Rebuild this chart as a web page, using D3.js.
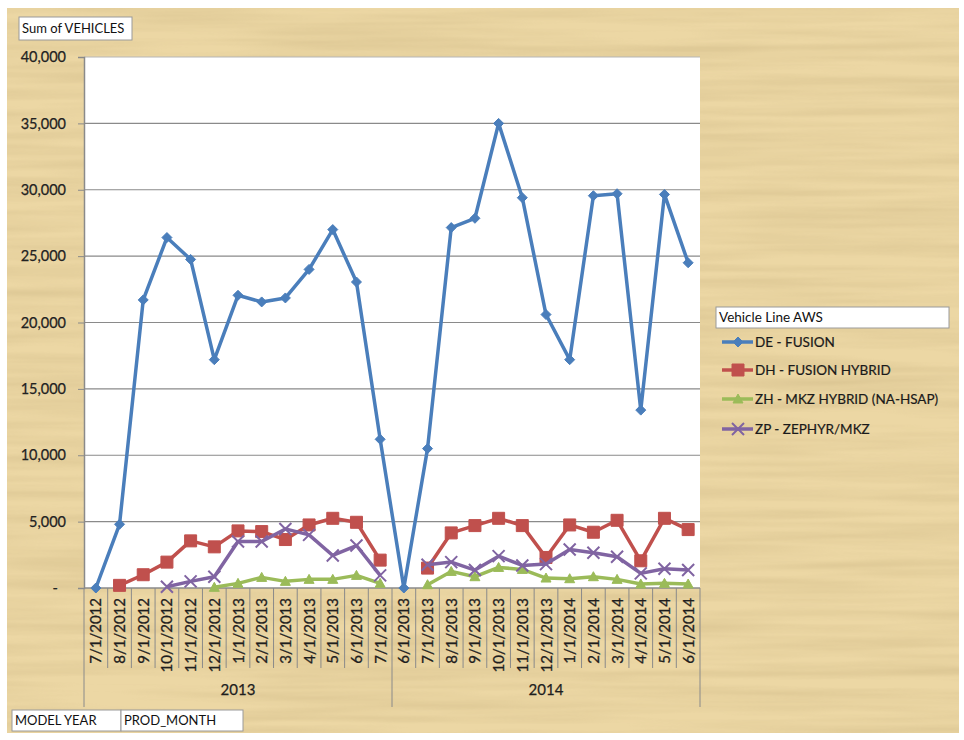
<!DOCTYPE html>
<html>
<head>
<meta charset="utf-8">
<script src="https://cdn.jsdelivr.net/npm/d3@7"></script>
<style>
  html, body { margin: 0; padding: 0; background: #ffffff; }
  svg { display: block; }
  text { font-family: Lato, "Open Sans", "Liberation Sans", sans-serif; }
</style>
</head>
<body>
<svg id="chart" width="964" height="740"></svg>
<script>
// ---------------- DATA ----------------
const categories = [
  "7/1/2012","8/1/2012","9/1/2012","10/1/2012","11/1/2012","12/1/2012","1/1/2013",
  "2/1/2013","3/1/2013","4/1/2013","5/1/2013","6/1/2013","7/1/2013",
  "6/1/2013","7/1/2013","8/1/2013","9/1/2013","10/1/2013","11/1/2013","12/1/2013",
  "1/1/2014","2/1/2014","3/1/2014","4/1/2014","5/1/2014","6/1/2014"
];
const modelYears = ["2013","2014"];
const modelYearSizes = [13, 13];

const seriesNames = ["DE - FUSION","DH - FUSION HYBRID","ZH - MKZ HYBRID (NA-HSAP)","ZP - ZEPHYR/MKZ"];

const deFusion = [0, 4800, 21700, 26400, 24750, 17200, 22050, 21550, 21850, 24000, 27000, 23050, 11200,
                  0, 10500, 27150, 27850, 35000, 29400, 20600, 17200, 29550, 29700, 13400, 29650, 24500];
const dhFusionHybrid = [null, 200, 1000, 1950, 3550, 3100, 4300, 4250, 3650, 4750, 5250, 4950, 2100,
                  null, 1500, 4150, 4700, 5250, 4700, 2300, 4750, 4200, 5100, 2050, 5250, 4400];
const zhMkzHybrid = [null, null, null, null, null, 50, 350, 800, 500, 650, 650, 950, 350,
                  null, 250, 1250, 850, 1550, 1400, 750, 700, 850, 650, 300, 350, 300];
const zpZephyr = [null, null, null, 100, 500, 850, 3500, 3500, 4450, 4000, 2450, 3200, 950,
                  null, 1750, 1950, 1350, 2400, 1700, 1800, 2900, 2650, 2350, 1100, 1450, 1350];

const yTicks = [0, 5000, 10000, 15000, 20000, 25000, 30000, 35000, 40000];
const yTitle = "Sum of VEHICLES";
const legendTitle = "Vehicle Line AWS";
const axisFieldLabels = ["MODEL YEAR", "PROD_MONTH"];

// --------------- STYLE ----------------
const colors = ["#4A7EBB", "#C0504D", "#9BBB59", "#8064A2"];
const markers = ["diamond", "square", "triangle", "x"];
const seriesData = [deFusion, dhFusionHybrid, zhMkzHybrid, zpZephyr];

const plot = { left: 84, right: 700, top: 57, bottom: 588 };

const svg = d3.select("#chart");

// parchment background
const defs = svg.append("defs");
const filt = defs.append("filter").attr("id", "paper").attr("x", 0).attr("y", 0).attr("width", "100%").attr("height", "100%");
filt.append("feTurbulence").attr("type", "fractalNoise").attr("baseFrequency", "0.004 0.09").attr("numOctaves", 3).attr("seed", 7).attr("result", "noise");
filt.append("feColorMatrix").attr("in", "noise").attr("type", "matrix")
  .attr("values", "0 0 0 0 0.55  0 0 0 0 0.42  0 0 0 0 0.2  0 0 0 -1.1 0.75").attr("result", "tint");
filt.append("feComposite").attr("in", "tint").attr("in2", "SourceGraphic").attr("operator", "in");

svg.append("rect").attr("x", 7).attr("y", 8).attr("width", 952).attr("height", 725)
  .attr("fill", "#ECD7A4");
svg.append("rect").attr("x", 7).attr("y", 8).attr("width", 952).attr("height", 725)
  .attr("fill", "#ECD7A4").attr("filter", "url(#paper)").attr("opacity", 0.55);

// scales
const x = d3.scaleBand().domain(d3.range(categories.length)).range([plot.left, plot.right]).padding(0);
const y = d3.scaleLinear().domain([0, 40000]).range([plot.bottom, plot.top]);
const cx = i => x(i) + x.bandwidth() / 2;

// plot area
svg.append("rect").attr("x", plot.left).attr("y", plot.top)
  .attr("width", plot.right - plot.left).attr("height", plot.bottom - plot.top)
  .attr("fill", "#ffffff");

// gridlines
svg.append("g").selectAll("line").data(yTicks.filter(d => d > 0)).join("line")
  .attr("x1", plot.left).attr("x2", plot.right)
  .attr("y1", d => y(d)).attr("y2", d => y(d))
  .attr("stroke", d => d === 40000 ? "#b5b5b5" : "#8a8a8a").attr("stroke-width", 1.2);

// y axis
const yAxis = d3.axisLeft(y).tickValues(yTicks).tickSize(6).tickPadding(12)
  .tickFormat(d => d === 0 ? "-" : d3.format(",")(d));
const gy = svg.append("g").attr("transform", `translate(${plot.left},0)`).call(yAxis);
gy.select(".domain").attr("stroke", "#8a8a8a").attr("stroke-width", 1.5);
gy.selectAll(".tick line").attr("stroke", "#8a8a8a");
gy.selectAll(".tick text").attr("font-size", 14.5).attr("fill", "#222")
  .attr("stroke", "#222").attr("stroke-width", 0.25)
  .attr("font-family", "Lato, 'Open Sans', sans-serif");
gy.selectAll(".tick text").filter(d => d === 0).attr("x", -26);

// x axis baseline
svg.append("line").attr("x1", plot.left).attr("x2", plot.right)
  .attr("y1", plot.bottom).attr("y2", plot.bottom).attr("stroke", "#8a8a8a").attr("stroke-width", 1.5);

// category separators
const boundaries = d3.range(categories.length + 1);
const groupEdges = [0];
modelYearSizes.forEach(s => groupEdges.push(groupEdges[groupEdges.length - 1] + s));
svg.append("g").selectAll("line").data(boundaries).join("line")
  .attr("x1", b => b < categories.length ? x(b) : plot.right)
  .attr("x2", b => b < categories.length ? x(b) : plot.right)
  .attr("y1", plot.bottom)
  .attr("y2", b => groupEdges.includes(b) ? 707 : 668)
  .attr("stroke", "#8a8a8a").attr("stroke-width", 1);

// category labels
svg.append("g").selectAll("text").data(categories).join("text")
  .attr("transform", (d, i) => `translate(${cx(i) + 5.5},${plot.bottom + 10}) rotate(-90)`)
  .attr("text-anchor", "end")
  .attr("font-size", 15).attr("fill", "#1e1e1e")
  .attr("stroke", "#1e1e1e").attr("stroke-width", 0.3)
  .text(d => d);

// group labels
svg.append("g").selectAll("text").data(modelYears).join("text")
  .attr("x", (d, i) => (x(groupEdges[i]) + (groupEdges[i + 1] < categories.length ? x(groupEdges[i + 1]) : plot.right)) / 2)
  .attr("y", 695)
  .attr("text-anchor", "middle").attr("font-size", 15).attr("fill", "#1e1e1e")
  .attr("stroke", "#1e1e1e").attr("stroke-width", 0.25)
  .text(d => d);

// series lines & markers
const markerPath = (type, s) => {
  const h = s / 2;
  switch (type) {
    case "diamond": return `M0,${-h}L${h},0L0,${h}L${-h},0Z`;
    case "square": return `M${-h},${-h}H${h}V${h}H${-h}Z`;
    case "triangle": return `M0,${-h}L${h},${h * 0.8}H${-h}Z`;
    case "x": return `M${-h},${-h}L${h},${h}M${-h},${h}L${h},${-h}`;
  }
};
const markerSize = [10, 12, 10, 12];

const line = d3.line().defined(d => d.v !== null).x(d => cx(d.i)).y(d => y(d.v));

seriesData.forEach((vals, s) => {
  const pts = vals.map((v, i) => ({ i, v }));
  const g = svg.append("g");
  g.append("path").attr("d", line(pts)).attr("fill", "none")
    .attr("stroke", colors[s]).attr("stroke-width", 3.5).attr("stroke-linejoin", "round");
  g.selectAll("path.m").data(pts.filter(p => p.v !== null)).join("path").attr("class", "m")
    .attr("transform", p => `translate(${cx(p.i)},${y(p.v)})`)
    .attr("d", markerPath(markers[s], markerSize[s]))
    .attr("fill", markers[s] === "x" ? "none" : colors[s])
    .attr("stroke", colors[s]).attr("stroke-width", markers[s] === "x" ? 2 : 1);
});

// y field button
svg.append("rect").attr("x", 19).attr("y", 17).attr("width", 113).attr("height", 23)
  .attr("fill", "#ffffff").attr("stroke", "#9a9a9a");
svg.append("text").attr("x", 22).attr("y", 33).attr("font-size", 13).attr("fill", "#111").text(yTitle);

// axis field buttons
const btnX = [12, 121], btnW = [109, 122];
axisFieldLabels.forEach((t, i) => {
  svg.append("rect").attr("x", btnX[i]).attr("y", 710).attr("width", btnW[i]).attr("height", 21)
    .attr("fill", "#ffffff").attr("stroke", "#9a9a9a");
  svg.append("text").attr("x", btnX[i] + 3).attr("y", 725).attr("font-size", 13).attr("fill", "#111").text(t);
});

// legend
svg.append("rect").attr("x", 716).attr("y", 307).attr("width", 233).attr("height", 21)
  .attr("fill", "#ffffff").attr("stroke", "#9a9a9a");
svg.append("text").attr("x", 719).attr("y", 322).attr("font-size", 13.5).attr("fill", "#111").text(legendTitle);

const legY = [342, 370, 399, 429];
seriesNames.forEach((n, s) => {
  const g = svg.append("g").attr("transform", `translate(0,${legY[s]})`);
  g.append("line").attr("x1", 722).attr("x2", 753).attr("y1", 0).attr("y2", 0)
    .attr("stroke", colors[s]).attr("stroke-width", 3.5);
  g.append("path").attr("transform", "translate(738,0)").attr("d", markerPath(markers[s], markerSize[s]))
    .attr("fill", markers[s] === "x" ? "none" : colors[s])
    .attr("stroke", colors[s]).attr("stroke-width", markers[s] === "x" ? 2 : 1);
  g.append("text").attr("x", 755).attr("y", 5).attr("font-size", 13.5).attr("fill", "#1a1a1a")
    .attr("stroke", "#1a1a1a").attr("stroke-width", 0.2).text(n);
});
</script>
</body>
</html>
